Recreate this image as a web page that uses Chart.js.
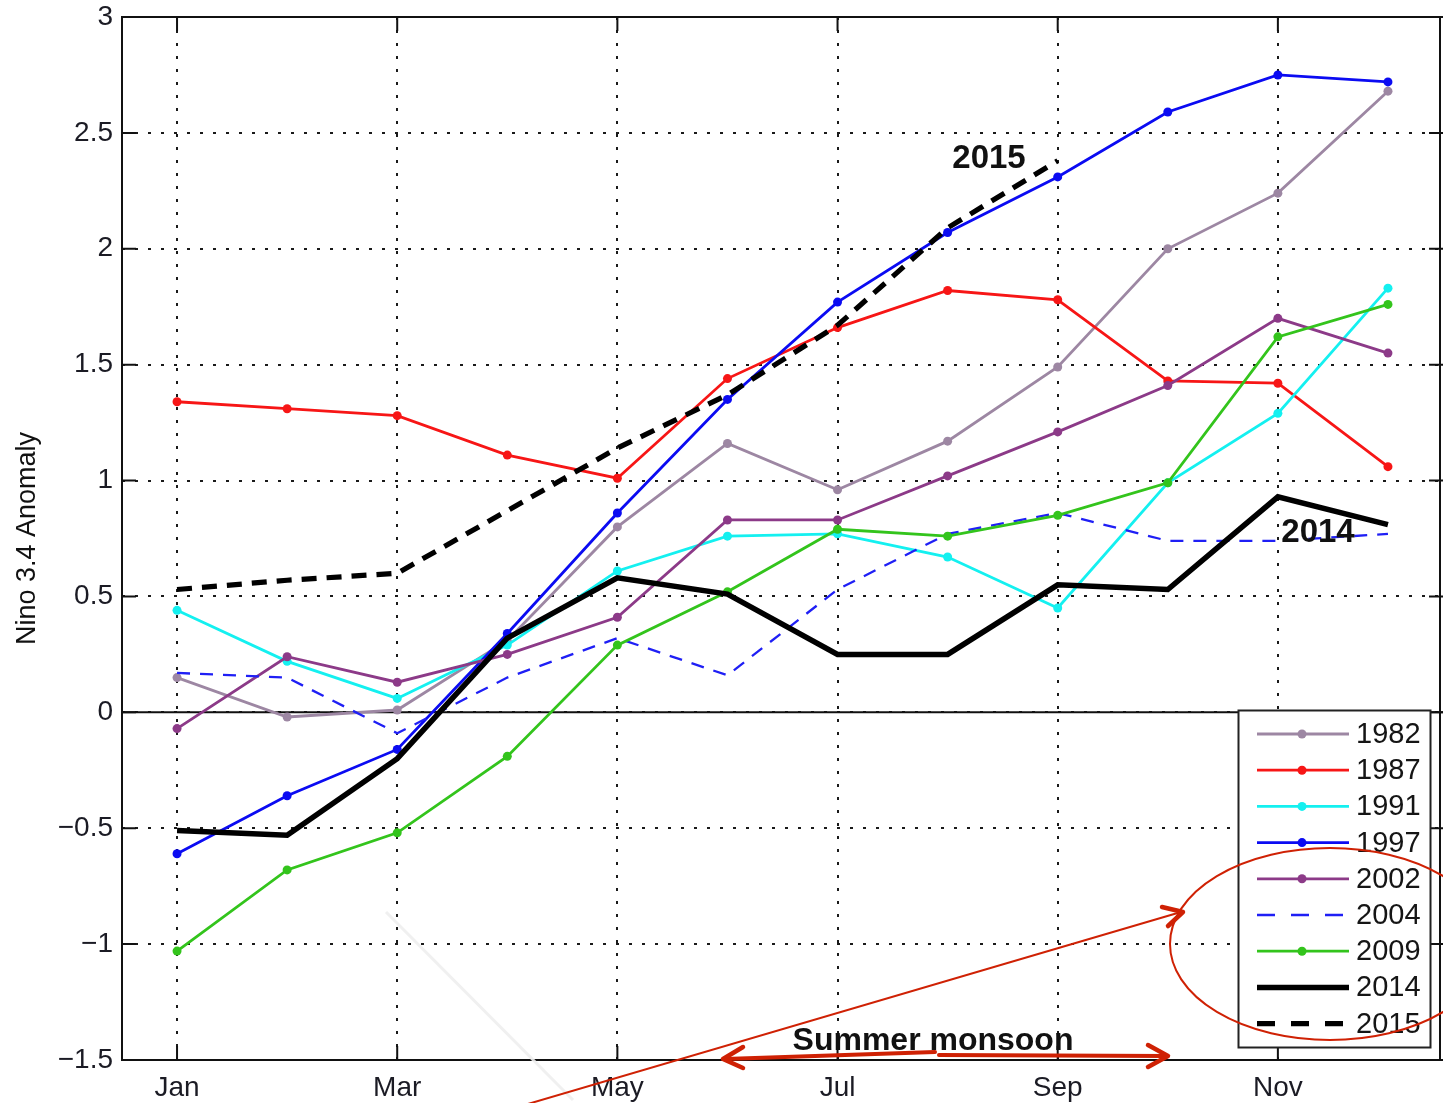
<!DOCTYPE html>
<html lang="en">
<head>
    <meta charset="UTF-8">
    <title>Nino 3.4 Anomaly</title>
    <script src="https://cdn.jsdelivr.net/npm/chart.js"></script>
    <style>
        body {
            margin: 0;
            background: #fff;
        }
        canvas {
            display: block;
        }
    </style>
</head>
<body>
    <canvas id="ninoChart" width="1443" height="1103"></canvas>

    <script>
        // monthly Nino 3.4 anomaly per year
        const months = ['Jan', 'Feb', 'Mar', 'Apr', 'May', 'Jun', 'Jul', 'Aug', 'Sep', 'Oct', 'Nov', 'Dec'];
        const y1982 = [0.15, -0.02, 0.01, 0.31, 0.80, 1.16, 0.96, 1.17, 1.49, 2.00, 2.24, 2.68];
        const y1987 = [1.34, 1.31, 1.28, 1.11, 1.01, 1.44, 1.66, 1.82, 1.78, 1.43, 1.42, 1.06];
        const y1991 = [0.44, 0.22, 0.06, 0.29, 0.61, 0.76, 0.77, 0.67, 0.45, 0.99, 1.29, 1.83];
        const y1997 = [-0.61, -0.36, -0.16, 0.34, 0.86, 1.35, 1.77, 2.07, 2.31, 2.59, 2.75, 2.72];
        const y2002 = [-0.07, 0.24, 0.13, 0.25, 0.41, 0.83, 0.83, 1.02, 1.21, 1.41, 1.70, 1.55];
        const y2004 = [0.17, 0.15, -0.09, 0.15, 0.32, 0.16, 0.53, 0.77, 0.86, 0.74, 0.74, 0.77];
        const y2009 = [-1.03, -0.68, -0.52, -0.19, 0.29, 0.52, 0.79, 0.76, 0.85, 0.99, 1.62, 1.76];
        const y2014 = [-0.51, -0.53, -0.20, 0.32, 0.58, 0.51, 0.25, 0.25, 0.55, 0.53, 0.93, 0.81];
        const y2015 = [0.53, 0.57, 0.60, 0.87, 1.14, 1.37, 1.67, 2.09, 2.38];

        const yearLabels = ['1982', '1987', '1991', '1997', '2002', '2004', '2009', '2014', '2015'];
        const yearValues = [y1982, y1987, y1991, y1997, y2002, y2004, y2009, y2014, y2015];

        const FONT = "'Liberation Sans', Arial, Helvetica, sans-serif";

        // line styles, same order as yearLabels
        const styles = [
            { color: '#9d87a3', width: 2.8, dash: [], dot: 4.5 },
            { color: '#f71616', width: 2.8, dash: [], dot: 4.5 },
            { color: '#14f0f0', width: 2.8, dash: [], dot: 4.5 },
            { color: '#0b0bf2', width: 2.8, dash: [], dot: 4.5 },
            { color: '#8c3a88', width: 2.8, dash: [], dot: 4.5 },
            { color: '#1f1ff5', width: 2.3, dash: [13, 10], dot: 0 },
            { color: '#33c41c', width: 2.8, dash: [], dot: 4.5 },
            { color: '#000000', width: 5.5, dash: [], dot: 0 },
            { color: '#000000', width: 5.2, dash: [15, 10], dot: 0 }
        ];

        const datasets = yearLabels.map((label, i) => ({
            label: label,
            data: yearValues[i],
            borderColor: styles[i].color,
            backgroundColor: styles[i].color,
            borderWidth: styles[i].width,
            borderDash: styles[i].dash,
            pointRadius: styles[i].dot,
            pointBorderWidth: 0,
            pointBackgroundColor: styles[i].color,
            tension: 0,
            fill: false,
            // later years drawn on top
            order: yearLabels.length - i
        }));

        // zero line, frame and inward tick marks
        const framePlugin = {
            id: 'frame',
            beforeDatasetsDraw(chart) {
                const { ctx, chartArea: a, scales: { x, y } } = chart;
                ctx.save();
                ctx.strokeStyle = '#111';
                ctx.lineWidth = 2;
                ctx.setLineDash([]);
                const y0 = y.getPixelForValue(0);
                ctx.beginPath();
                ctx.moveTo(a.left, y0);
                ctx.lineTo(a.right, y0);
                ctx.stroke();
                ctx.strokeRect(a.left, a.top, a.right - a.left - 3, a.bottom - a.top);
                const tl = 14;
                ctx.beginPath();
                y.ticks.forEach(t => {
                    const py = y.getPixelForValue(t.value);
                    ctx.moveTo(a.left, py); ctx.lineTo(a.left + tl, py);
                    ctx.moveTo(a.right, py); ctx.lineTo(a.right - tl, py);
                });
                months.forEach((m, i) => {
                    if (i % 2) return;
                    const px = x.getPixelForValue(i);
                    ctx.moveTo(px, a.bottom); ctx.lineTo(px, a.bottom - tl);
                    ctx.moveTo(px, a.top); ctx.lineTo(px, a.top + tl);
                });
                ctx.stroke();
                ctx.restore();
            }
        };

        // boxed legend in the lower right corner
        const legendPlugin = {
            id: 'boxLegend',
            afterDatasetsDraw(chart) {
                const { ctx } = chart;
                ctx.save();
                ctx.fillStyle = '#fff';
                ctx.fillRect(1238, 710, 192, 337);
                ctx.strokeStyle = '#222';
                ctx.lineWidth = 2;
                ctx.strokeRect(1238.5, 710.5, 192, 337);
                chart.data.datasets.forEach((ds, i) => {
                    const ly = 734 + i * 36.2;
                    ctx.strokeStyle = ds.borderColor;
                    ctx.lineWidth = ds.borderWidth;
                    ctx.setLineDash(ds.borderDash.length ? [18, 16] : []);
                    ctx.beginPath();
                    ctx.moveTo(1257, ly);
                    ctx.lineTo(1349, ly);
                    ctx.stroke();
                    ctx.setLineDash([]);
                    if (ds.pointRadius > 0) {
                        ctx.fillStyle = ds.pointBackgroundColor;
                        ctx.beginPath();
                        ctx.arc(1302, ly, ds.pointRadius, 0, Math.PI * 2);
                        ctx.fill();
                    }
                    ctx.fillStyle = '#151515';
                    ctx.font = '29px ' + FONT;
                    ctx.textAlign = 'left';
                    ctx.textBaseline = 'middle';
                    ctx.fillText(ds.label, 1356, ly + 1);
                });
                ctx.restore();
            }
        };

        function arrowHead(ctx, tx, ty, ax, ay, bx, by) {
            ctx.beginPath();
            ctx.moveTo(ax, ay);
            ctx.lineTo(tx, ty);
            ctx.lineTo(bx, by);
            ctx.stroke();
        }

        // year tags, monsoon span and the red markup on top
        const notesPlugin = {
            id: 'notes',
            afterDraw(chart) {
                const { ctx } = chart;
                ctx.save();
                ctx.fillStyle = '#111';
                ctx.textAlign = 'center';
                ctx.textBaseline = 'alphabetic';
                ctx.font = 'bold 33px ' + FONT;
                ctx.fillText('2015', 989, 168);
                ctx.fillText('2014', 1318, 542);
                ctx.font = 'bold 32px ' + FONT;
                ctx.fillText('Summer monsoon', 933, 1050);

                // faint stray stroke
                ctx.strokeStyle = 'rgba(238,238,238,0.9)';
                ctx.lineWidth = 3;
                ctx.beginPath();
                ctx.moveTo(386, 912);
                ctx.lineTo(573, 1100);
                ctx.stroke();

                const red = '#cf2104';
                ctx.strokeStyle = red;
                ctx.lineCap = 'round';
                ctx.lineJoin = 'round';

                ctx.lineWidth = 2;
                ctx.beginPath();
                ctx.ellipse(1330, 944, 160, 96, 0, 0, Math.PI * 2);
                ctx.stroke();

                ctx.beginPath();
                ctx.moveTo(521, 1106);
                ctx.lineTo(1181, 912);
                ctx.stroke();
                ctx.lineWidth = 4.5;
                arrowHead(ctx, 1183, 912, 1162, 907, 1168, 926);

                ctx.lineWidth = 4;
                ctx.beginPath();
                ctx.moveTo(725, 1059);
                ctx.lineTo(935, 1052);
                ctx.moveTo(939, 1055);
                ctx.lineTo(1166, 1056);
                ctx.stroke();
                ctx.lineWidth = 4.5;
                arrowHead(ctx, 723, 1059, 743, 1047, 743, 1068);
                arrowHead(ctx, 1168, 1056, 1148, 1045, 1148, 1067);
                ctx.restore();
            }
        };

        const ctx = document.getElementById('ninoChart').getContext('2d');

        const chart = new Chart(ctx, {
            type: 'line',
            data: {
                labels: months,
                datasets: datasets
            },
            options: {
                responsive: false,
                animation: false,
                devicePixelRatio: 1,
                layout: {
                    autoPadding: false,
                    padding: { top: 17, right: 0, bottom: 0, left: 0 }
                },
                scales: {
                    x: {
                        type: 'category',
                        offset: true,
                        grid: {
                            color: c => (c.index % 2 === 0 ? '#1a1a1a' : 'rgba(0,0,0,0)'),
                            lineWidth: 2,
                            drawTicks: false
                        },
                        border: { display: false, dash: [3, 10] },
                        ticks: {
                            autoSkip: false,
                            maxRotation: 0,
                            padding: 11,
                            color: '#1b1b24',
                            font: { family: FONT, size: 28 },
                            callback: (v, i) => (i % 2 === 0 ? months[i] : '')
                        },
                        afterFit: s => {
                            s.height = 43;
                            s.paddingLeft = 0;
                            s.paddingRight = 0;
                        }
                    },
                    y: {
                        min: -1.5,
                        max: 3,
                        grid: {
                            color: '#1a1a1a',
                            lineWidth: 2,
                            drawTicks: false
                        },
                        border: { display: false, dash: [3, 10] },
                        ticks: {
                            stepSize: 0.5,
                            padding: 9,
                            color: '#1b1b24',
                            font: { family: FONT, size: 28 },
                            callback: v => (v < 0 ? '\u2212' + Math.abs(v) : String(v))
                        },
                        title: {
                            display: true,
                            text: 'Nino 3.4 Anomaly',
                            color: '#111',
                            font: { family: FONT, size: 27 },
                            padding: { top: 11, bottom: 0 }
                        },
                        afterFit: s => {
                            s.width = 122;
                            s.paddingTop = 0;
                            s.paddingBottom = 0;
                        }
                    }
                },
                plugins: {
                    legend: { display: false },
                    tooltip: { enabled: false }
                }
            },
            plugins: [framePlugin, legendPlugin, notesPlugin]
        });
    </script>
</body>
</html>
